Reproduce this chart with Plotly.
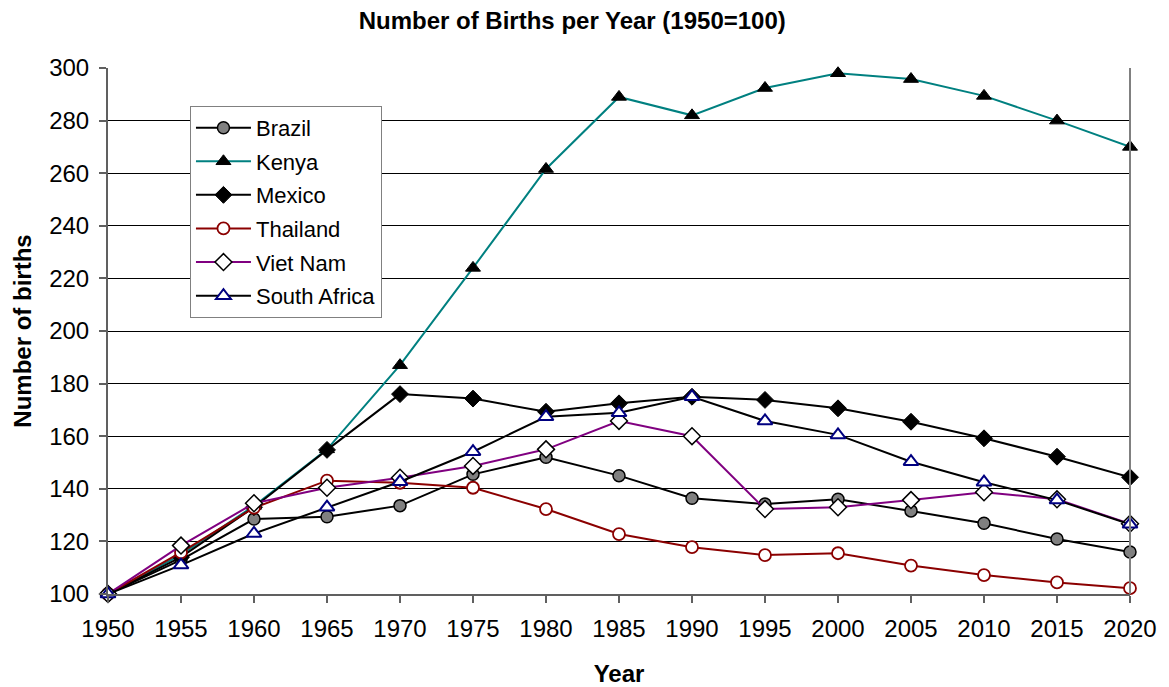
import plotly.graph_objects as go

years = [1950, 1955, 1960, 1965, 1970, 1975, 1980, 1985, 1990, 1995, 2000, 2005, 2010, 2015, 2020]
brazil = [100, 113, 128.5, 129.4, 133.6, 145.5, 152, 145, 136.4, 134.2, 136, 131.6, 126.9, 120.9, 116]
kenya = [100, 115, 133.5, 155, 187, 224, 261.6, 289, 282, 292.4, 298, 295.8, 289.4, 280, 270]
mexico = [100, 114, 133, 154.8, 176, 174.3, 169.3, 172.5, 175, 173.8, 170.6, 165.5, 159.2, 152.2, 144.4]
thailand = [100, 115.8, 132.8, 143.1, 142.3, 140.4, 132.3, 122.8, 117.8, 114.8, 115.5, 110.8, 107.2, 104.4, 102.2]
vietnam = [100, 118.4, 134.5, 140.4, 144.2, 148.7, 155, 165.8, 160, 132.3, 133, 135.7, 138.7, 136, 126.7]
south_africa = [100, 111, 123, 133, 142.7, 154.1, 167.4, 168.9, 175, 165.8, 160.5, 150.3, 142.5, 135.7, 126.5]

series = [
    ("Brazil", brazil, "black", dict(symbol="circle", size=12, color="#808080", line=dict(color="black", width=1.5))),
    ("Kenya", kenya, "#008080", dict(symbol="triangle-up", size=13, color="black", line=dict(color="black", width=1))),
    ("Mexico", mexico, "black", dict(symbol="diamond", size=13, color="black", line=dict(color="black", width=1))),
    ("Thailand", thailand, "#8B0000", dict(symbol="circle", size=12, color="white", line=dict(color="#8B0000", width=1.8))),
    ("Viet Nam", vietnam, "#800080", dict(symbol="diamond", size=13, color="white", line=dict(color="black", width=1.5))),
    ("South Africa", south_africa, "black", dict(symbol="triangle-up", size=13, color="white", line=dict(color="#000080", width=2))),
]

fig = go.Figure()
for name, vals, lc, mk in series:
    fig.add_trace(go.Scatter(
        x=years, y=vals, name=name, mode="lines+markers",
        line=dict(color=lc, width=2), marker=mk, cliponaxis=False,
        legendgroup=name,
    ))

W, H = 1161, 679
fig.update_layout(
    width=W, height=H,
    margin=dict(l=100, r=39, t=60, b=93),
    paper_bgcolor="white", plot_bgcolor="white",
    font=dict(family="Arial, Liberation Sans, sans-serif", size=24, color="black"),
    title=dict(text="<b>Number of Births per Year (1950=100)</b>", x=0.486, xanchor="center",
               xref="container", yref="container",
               y=1 - 13 / H, yanchor="middle", font=dict(size=24)),
    xaxis=dict(
        range=[1950, 2020], tickmode="array", tickvals=years, ticktext=[str(y) for y in years],
        showgrid=False, zeroline=False, showline=True, linecolor="#606060", linewidth=2,
        ticks="outside", ticklen=7, tickcolor="#606060", tickwidth=1.5, mirror=False,
        ticklabelstandoff=5, automargin=False,
        title=dict(text="<b>Year</b>", font=dict(size=24), standoff=24),
    ),
    yaxis=dict(
        range=[100, 300], tickmode="array", tickvals=list(range(100, 301, 20)),
        showgrid=True, gridcolor="black", gridwidth=1, zeroline=False,
        showline=True, linecolor="#606060", linewidth=2,
        ticks="outside", ticklen=7, tickcolor="#606060", tickwidth=1.5,
        ticklabelstandoff=5, automargin=False,
        title=dict(text="<b>Number of births</b>", font=dict(size=24), standoff=11),
    ),
    legend=dict(
        x=0.0802, y=0.928, xanchor="left", yanchor="top",
        bgcolor="white", bordercolor="#808080", borderwidth=1,
        font=dict(size=22), tracegroupgap=2, traceorder="grouped",
        itemwidth=55,
    ),
    showlegend=True,
)

fig.add_shape(type="line", xref="paper", yref="paper", x0=1, x1=1, y0=0, y1=1,
              line=dict(color="#808080", width=2))

fig.write_html("out.html")
